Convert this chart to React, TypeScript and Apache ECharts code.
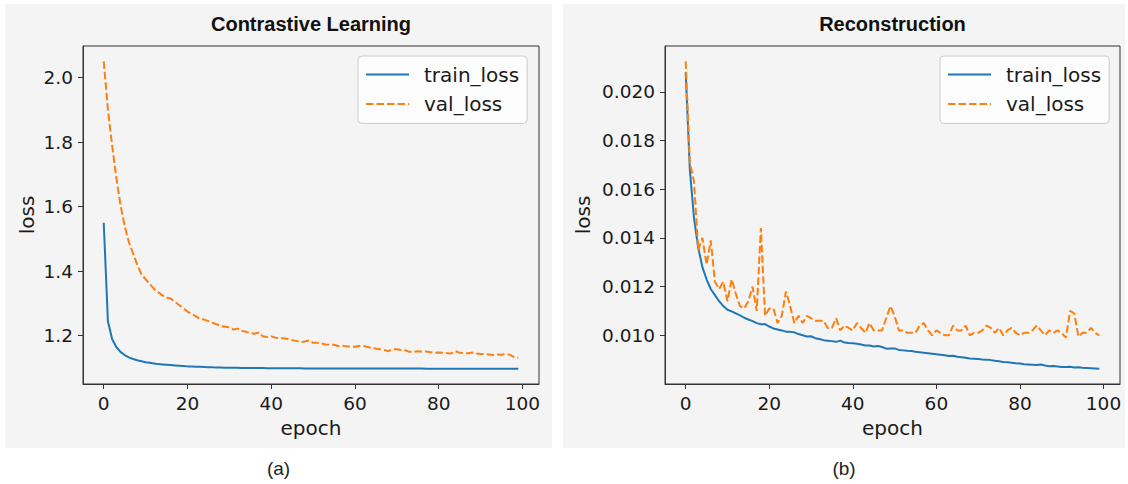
import React, { useEffect, useRef } from "react";
import * as echarts from "echarts";

const seriesNames = ["train_loss", "val_loss"];
const panelTitles = ["Contrastive Learning", "Reconstruction"];
const panelCaptions = ["(a)", "(b)"];
const xTicks = [0, 20, 40, 60, 80, 100];
const yTicksA = [1.2, 1.4, 1.6, 1.8, 2.0];
const yTicksB = [0.01, 0.012, 0.014, 0.016, 0.018, 0.02];

const trainA = [
  1.55, 1.245, 1.19, 1.165, 1.15, 1.14, 1.133, 1.128, 1.124, 1.121,
  1.118, 1.116, 1.114, 1.112, 1.111, 1.11, 1.109, 1.108, 1.107, 1.106,
  1.105, 1.1045, 1.104, 1.1035, 1.103, 1.1025, 1.102, 1.1017, 1.1014, 1.1011,
  1.1008, 1.1006, 1.1004, 1.1002, 1.1, 1.0999, 1.0998, 1.0997, 1.0996, 1.0995,
  1.0994, 1.0993, 1.0992, 1.0991, 1.099, 1.099, 1.0989, 1.0989, 1.0988, 1.0988,
  1.0987, 1.0987, 1.0986, 1.0986, 1.0986, 1.0985, 1.0985, 1.0985, 1.0984, 1.0984,
  1.0984, 1.0984, 1.0983, 1.0983, 1.0983, 1.0983, 1.0982, 1.0982, 1.0982, 1.0982,
  1.0982, 1.0981, 1.0981, 1.0981, 1.0981, 1.0981, 1.0981, 1.098, 1.098, 1.098,
  1.098, 1.098, 1.098, 1.098, 1.098, 1.098, 1.098, 1.098, 1.098, 1.098,
  1.098, 1.098, 1.098, 1.098, 1.098, 1.098, 1.098, 1.098, 1.098, 1.098,
];
const valA = [
  2.05, 1.9, 1.79, 1.69, 1.605, 1.54, 1.49, 1.455, 1.42, 1.39,
  1.375, 1.36, 1.345, 1.335, 1.325, 1.318, 1.315, 1.305, 1.295, 1.285,
  1.275, 1.268, 1.26, 1.252, 1.25, 1.245, 1.24, 1.235, 1.23, 1.228,
  1.226, 1.219, 1.222, 1.215, 1.212, 1.208, 1.206, 1.21, 1.198, 1.196,
  1.198, 1.194, 1.192, 1.192, 1.19, 1.186, 1.184, 1.18, 1.182, 1.185,
  1.178, 1.178, 1.176, 1.173, 1.172, 1.172, 1.168, 1.169, 1.167, 1.166,
  1.166, 1.168, 1.168, 1.165, 1.162, 1.16, 1.158, 1.156, 1.152, 1.158,
  1.158, 1.156, 1.155, 1.15, 1.15, 1.152, 1.15, 1.151, 1.149, 1.147,
  1.148, 1.147, 1.146, 1.145, 1.152, 1.147, 1.146, 1.146, 1.148, 1.145,
  1.143, 1.143, 1.142, 1.14, 1.142, 1.141, 1.143, 1.141, 1.134, 1.132,
];
const trainB = [
  0.0208, 0.0168, 0.0148, 0.0136, 0.0128, 0.0123, 0.0119, 0.01165, 0.0114, 0.0112,
  0.01105, 0.01098, 0.0109, 0.01082, 0.01072, 0.01065, 0.01058, 0.0105, 0.01045, 0.01046,
  0.01036, 0.01028, 0.01024, 0.0102, 0.01015, 0.01014, 0.01012, 0.01005, 0.01, 0.00995,
  0.00996, 0.00988, 0.00985, 0.0098, 0.00978, 0.00976, 0.00973, 0.00978, 0.0097, 0.00968,
  0.00967, 0.00965, 0.00962, 0.00958, 0.00958, 0.00954, 0.00956, 0.00952, 0.00945, 0.00946,
  0.00946, 0.0094, 0.00938, 0.00936, 0.00935, 0.00932, 0.0093, 0.00928, 0.00926, 0.00924,
  0.00922, 0.0092, 0.00918, 0.00915, 0.00916, 0.00912, 0.0091, 0.00908, 0.00905, 0.00904,
  0.00903, 0.00901, 0.009, 0.00898, 0.00895, 0.00893, 0.0089, 0.00889, 0.00887, 0.00885,
  0.00884, 0.00881, 0.0088, 0.00879, 0.00878, 0.0088, 0.00876, 0.00873, 0.00874, 0.00872,
  0.0087, 0.0087, 0.00871, 0.00868, 0.00869, 0.00867, 0.00866, 0.00865, 0.00864, 0.00863,
];
const valB = [
  0.02125, 0.0171, 0.0163, 0.0135, 0.014, 0.0129, 0.0139, 0.0122, 0.0119, 0.0122,
  0.0114, 0.0123, 0.0117, 0.0112, 0.0111, 0.0114, 0.012, 0.011, 0.0144, 0.0108,
  0.0111, 0.0111, 0.0105, 0.0108, 0.0118, 0.0112, 0.0105, 0.0108, 0.0105, 0.0108,
  0.0107, 0.0106, 0.0106, 0.0106, 0.0103, 0.0103, 0.0107, 0.0102, 0.0104, 0.0103,
  0.0102, 0.0105, 0.0103, 0.0101, 0.0105, 0.0102, 0.0102, 0.0102, 0.0107, 0.0112,
  0.0108, 0.0102, 0.0102, 0.0101, 0.0101, 0.0101, 0.0104, 0.0105, 0.0102, 0.01,
  0.0102, 0.0101, 0.01, 0.01, 0.0104, 0.0102, 0.0102, 0.0104, 0.01, 0.0101,
  0.0101, 0.0102, 0.0104, 0.0103, 0.0101, 0.0103, 0.01, 0.0102, 0.0103, 0.0101,
  0.01, 0.0101, 0.0101, 0.0102, 0.0104, 0.0102, 0.01, 0.0102, 0.0101, 0.0102,
  0.0101, 0.0099, 0.011, 0.0109, 0.00995, 0.0101, 0.0101, 0.0103, 0.0101, 0.01,
];

const BLUE = "#1f77b4";
const ORANGE = "#ff7f0e";
const PANEL_BG = "#f4f4f4";
const TEXT = "#1a1a1a";
const AXIS = "#333333";
const TICK_FONT = "'DejaVu Sans', sans-serif";
const TITLE_FONT = "'Liberation Sans', Arial, sans-serif";

function pairs(arr: number[]) {
  return arr.map((v, i) => [i, v]);
}
function padRange(...arrs: number[][]) {
  const all = ([] as number[]).concat(...arrs);
  const lo = Math.min(...all);
  const hi = Math.max(...all);
  const m = (hi - lo) * 0.05;
  return [lo - m, hi + m];
}

export default function App() {
  const ref = useRef<HTMLDivElement>(null);
  useEffect(() => {
    if (!ref.current) return;
    const chart = echarts.init(ref.current, undefined, { renderer: "svg" });
    const [aMin, aMax] = padRange(trainA, valA);
    const [bMin, bMax] = padRange(trainB, valB);
    const xLen = trainA.length - 1;
    const grids = [
      { left: 83, top: 46, width: 456, height: 338 },
      { left: 665, top: 46, width: 455, height: 338 },
    ];
    const xAxisCommon = (gi: number) => ({
      type: "value",
      gridIndex: gi,
      min: -0.05 * xLen,
      max: xLen * 1.05,
      name: "epoch",
      nameLocation: "middle",
      nameGap: 31,
      nameTextStyle: { fontFamily: TICK_FONT, fontSize: 20, color: TEXT },
      axisLine: { show: true, onZero: false, lineStyle: { color: AXIS, width: 1 } },
      axisTick: { show: true, length: 5, lineStyle: { color: AXIS }, customValues: xTicks },
      axisLabel: {
        customValues: xTicks,
        fontFamily: TICK_FONT,
        fontSize: 18.5,
        color: TEXT,
        margin: 10,
      },
      splitLine: { show: false },
    });
    const yAxisCommon = (gi: number, min: number, max: number, ticks: number[], dec: number, gap: number) => ({
      type: "value",
      gridIndex: gi,
      min,
      max,
      name: "loss",
      nameLocation: "middle",
      nameGap: gap,
      nameTextStyle: { fontFamily: TICK_FONT, fontSize: 20, color: TEXT },
      axisLine: { show: true, onZero: false, lineStyle: { color: AXIS, width: 1 } },
      axisTick: { show: true, length: 5, lineStyle: { color: AXIS }, customValues: ticks },
      axisLabel: {
        customValues: ticks,
        fontFamily: TICK_FONT,
        fontSize: 18.5,
        color: TEXT,
        margin: 10,
        formatter: (v: number) => v.toFixed(dec),
      },
      splitLine: { show: false },
    });
    const legendCommon = (left: number) => ({
      orient: "vertical",
      left,
      top: 56,
      data: seriesNames,
      itemWidth: 43,
      itemHeight: 14,
      itemGap: 9.4,
      padding: [8.5, 8, 9.5, 7],
      backgroundColor: "rgba(255,255,255,0.8)",
      borderColor: "#cccccc",
      borderWidth: 1,
      borderRadius: 4,
      itemStyle: { opacity: 0 },
      lineStyle: { width: 2 },
      textStyle: { fontFamily: TICK_FONT, fontSize: 20, color: TEXT, lineHeight: 20, padding: [0, 0, 0, 10] },
      selectedMode: false,
    });
    const lineSeries = (name: string, data: number[], gi: number, color: string, dashed: boolean) => ({
      type: "line",
      name,
      xAxisIndex: gi,
      yAxisIndex: gi,
      data: pairs(data),
      symbol: "none",
      showSymbol: false,
      smooth: false,
      color,
      lineStyle: dashed
        ? { color, width: 2, type: [7.5, 3] }
        : { color, width: 2, type: "solid" },
      z: dashed ? 3 : 2,
    });
    const option: any = {
      animation: false,
      backgroundColor: "#ffffff",
      graphic: [
        { type: "rect", shape: { x: 5, y: 4, width: 547, height: 444 }, style: { fill: PANEL_BG }, z: -10, silent: true },
        { type: "rect", shape: { x: 563, y: 4, width: 562, height: 444 }, style: { fill: PANEL_BG }, z: -10, silent: true },
        {
          type: "text", x: 311, y: 24,
          style: { text: panelTitles[0], font: `bold 20px ${TITLE_FONT}`, fill: "#111", textAlign: "center", textVerticalAlign: "middle" },
        },
        {
          type: "text", x: 892.5, y: 24,
          style: { text: panelTitles[1], font: `bold 20px ${TITLE_FONT}`, fill: "#111", textAlign: "center", textVerticalAlign: "middle" },
        },
        {
          type: "text", x: 278.5, y: 468,
          style: { text: panelCaptions[0], font: `19px ${TITLE_FONT}`, fill: "#222", textAlign: "center", textVerticalAlign: "middle" },
        },
        {
          type: "text", x: 844, y: 468,
          style: { text: panelCaptions[1], font: `19px ${TITLE_FONT}`, fill: "#222", textAlign: "center", textVerticalAlign: "middle" },
        },
      ],
      grid: grids.map((g) => ({ ...g, show: true, borderColor: AXIS, borderWidth: 1, backgroundColor: "transparent" })),
      xAxis: [xAxisCommon(0), xAxisCommon(1)],
      yAxis: [
        yAxisCommon(0, aMin, aMax, yTicksA, 1, 46),
        yAxisCommon(1, bMin, bMax, yTicksB, 3, 72),
      ],
      legend: [legendCommon(358), legendCommon(940)],
      series: [
        lineSeries(seriesNames[0], trainA, 0, BLUE, false),
        lineSeries(seriesNames[1], valA, 0, ORANGE, true),
        lineSeries(seriesNames[0], trainB, 1, BLUE, false),
        lineSeries(seriesNames[1], valB, 1, ORANGE, true),
      ],
    };
    chart.setOption(option);
    return () => chart.dispose();
  }, []);
  return (
    <div
      ref={ref}
      style={{ position: "fixed", left: 0, top: 0, width: 1128, height: 484, background: "#fff" }}
    />
  );
}
